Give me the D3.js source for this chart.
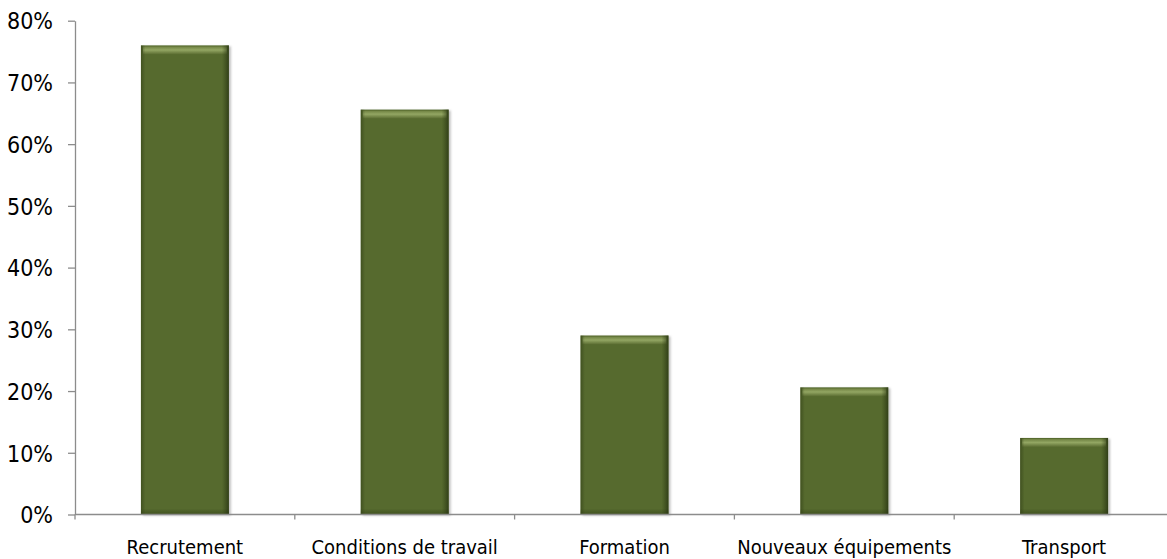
<!DOCTYPE html>
<html>
<head>
<meta charset="utf-8">
<script src="https://cdn.jsdelivr.net/npm/d3@7"></script>
<style>
  html, body { margin: 0; padding: 0; background: #ffffff; }
  svg { display: block; }
</style>
</head>
<body>
<svg id="chart" width="1167" height="559"></svg>
<script>
// Categories and shares (percent)
const categories = ["Recrutement", "Conditions de travail", "Formation", "Nouveaux équipements", "Transport"];
const values = [76, 65.6, 29, 20.6, 12.4];
const yTicks = [0, 10, 20, 30, 40, 50, 60, 70, 80];

const svg = d3.select("#chart");
const margin = { left: 75, top: 20.7, bottom: 44.5 };
const plotRight = 1174;
const H = 559;
const font = "'DejaVu Sans Condensed', 'DejaVu Sans', sans-serif";

const x = d3.scaleBand()
  .domain(categories)
  .range([margin.left, plotRight])
  .paddingInner(0.6)
  .paddingOuter(0.3);

const y = d3.scaleLinear()
  .domain([0, 80])
  .range([H - margin.bottom, margin.top]);

const defs = svg.append("defs");

// side shading across the bar width
const side = defs.append("linearGradient").attr("id", "side").attr("x1", 0).attr("x2", 1).attr("y1", 0).attr("y2", 0);
side.append("stop").attr("offset", "0%").attr("stop-color", "#2f3d14").attr("stop-opacity", 0.55);
side.append("stop").attr("offset", "5%").attr("stop-color", "#2f3d14").attr("stop-opacity", 0.0);
side.append("stop").attr("offset", "92%").attr("stop-color", "#2f3d14").attr("stop-opacity", 0.0);
side.append("stop").attr("offset", "100%").attr("stop-color", "#243010").attr("stop-opacity", 0.75);

// top bevel highlight
const topG = defs.append("linearGradient").attr("id", "topg").attr("x1", 0).attr("x2", 0).attr("y1", 0).attr("y2", 1);
topG.append("stop").attr("offset", "0%").attr("stop-color", "#6e8040");
topG.append("stop").attr("offset", "45%").attr("stop-color", "#93a663");
topG.append("stop").attr("offset", "100%").attr("stop-color", "#5a6c31");

// bottom shading
const botG = defs.append("linearGradient").attr("id", "botg").attr("x1", 0).attr("x2", 0).attr("y1", 0).attr("y2", 1);
botG.append("stop").attr("offset", "0%").attr("stop-color", "#2f3d14").attr("stop-opacity", 0);
botG.append("stop").attr("offset", "100%").attr("stop-color", "#2f3d14").attr("stop-opacity", 0.55);

// soft grey shadow
const shadow = defs.append("filter").attr("id", "shadow").attr("x", "-10%").attr("y", "-10%").attr("width", "130%").attr("height", "130%");
shadow.append("feDropShadow").attr("dx", 2).attr("dy", 1).attr("stdDeviation", 1.2)
  .attr("flood-color", "#000").attr("flood-opacity", 0.25);

// bars
const bars = svg.append("g").selectAll("g.bar").data(categories).join("g").attr("class", "bar");
bars.append("rect")
  .attr("x", d => x(d)).attr("y", (d, i) => y(values[i]))
  .attr("width", x.bandwidth()).attr("height", (d, i) => y(0) - y(values[i]))
  .attr("fill", "#566a2e").attr("filter", "url(#shadow)");
bars.append("rect")
  .attr("x", d => x(d) + 2).attr("y", (d, i) => y(values[i]) + 1)
  .attr("width", x.bandwidth() - 4).attr("height", 8)
  .attr("fill", "url(#topg)");
bars.append("rect")
  .attr("x", d => x(d)).attr("y", y(0) - 6)
  .attr("width", x.bandwidth()).attr("height", 6)
  .attr("fill", "url(#botg)");
bars.append("rect")
  .attr("x", d => x(d)).attr("y", (d, i) => y(values[i]))
  .attr("width", x.bandwidth()).attr("height", (d, i) => y(0) - y(values[i]))
  .attr("fill", "url(#side)");

// y axis
const yAxis = svg.append("g")
  .attr("transform", `translate(${margin.left},0)`)
  .call(d3.axisLeft(y).tickValues(yTicks).tickFormat(d => d + "%").tickSizeOuter(0).tickSizeInner(7).tickPadding(15));
yAxis.select(".domain").attr("stroke", "#8c8c8c").attr("stroke-width", 1.3);
yAxis.selectAll(".tick line").attr("stroke", "#8c8c8c").attr("stroke-width", 1.3);
yAxis.selectAll(".tick text")
  .attr("fill", "#000")
  .style("font-family", font)
  .style("font-size", "23px")
  .attr("dy", "0.36em");

// x axis: baseline with tick marks at the category boundaries
const xAxisG = svg.append("g").attr("transform", `translate(0,${y(0)})`);
xAxisG.append("line")
  .attr("x1", margin.left).attr("x2", plotRight)
  .attr("stroke", "#8c8c8c").attr("stroke-width", 1.3);
const bounds = d3.range(categories.length + 1).map(i => margin.left + i * x.step());
xAxisG.selectAll("line.tk").data(bounds).join("line")
  .attr("class", "tk")
  .attr("x1", d => d).attr("x2", d => d)
  .attr("y1", 0).attr("y2", 5)
  .attr("stroke", "#8c8c8c").attr("stroke-width", 1.3);
xAxisG.selectAll("text.cat").data(categories).join("text")
  .attr("class", "cat")
  .attr("x", d => x(d) + x.bandwidth() / 2)
  .attr("y", 39.5)
  .attr("text-anchor", "middle")
  .attr("fill", "#000")
  .style("font-family", font)
  .style("font-size", "20px")
  .text(d => d);
</script>
</body>
</html>
